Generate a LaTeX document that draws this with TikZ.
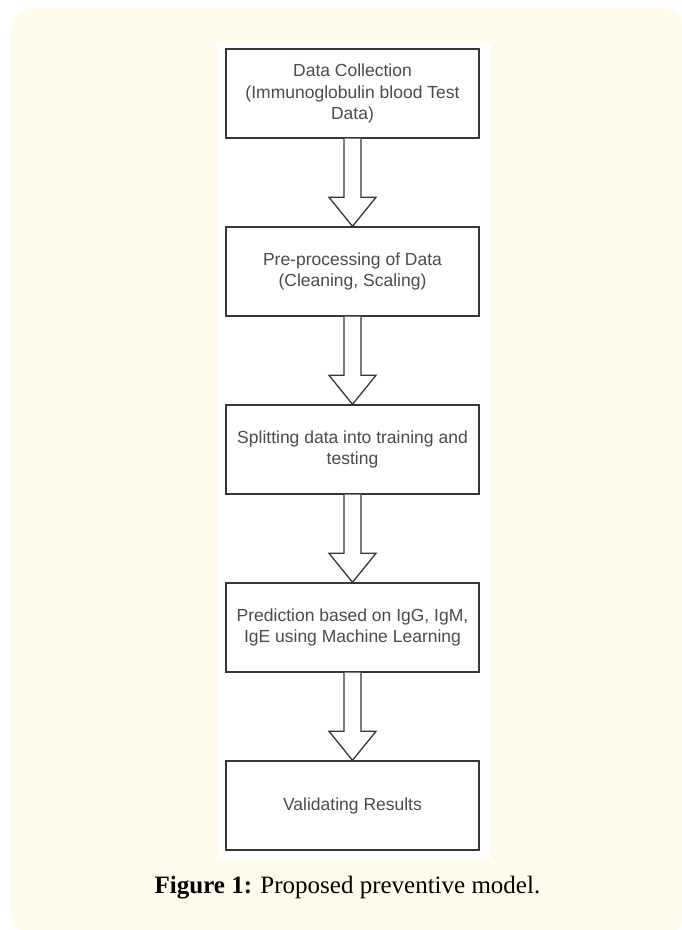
\documentclass[tikz,border=0pt]{standalone}
\usepackage{fontspec}
\setmainfont{Liberation Serif}
\setsansfont{Liberation Sans}
\usetikzlibrary{calc}
\definecolor{bgyellow}{RGB}{255,251,234}
\definecolor{boxline}{RGB}{55,55,55}
\definecolor{boxtext}{RGB}{75,75,75}
\tikzset{
  stepbox/.style={draw=boxline, line width=1.4pt, fill=white, minimum width=253pt, minimum height=89pt,
    align=center, inner sep=0pt, text=boxtext, font=\sffamily\fontsize{17.5}{21.5}\selectfont},
  hollowarrow/.style={draw=boxline, line width=1.3pt, fill=white, line join=miter}
}
\begin{document}
\begin{tikzpicture}[x=1pt,y=-1pt]
\useasboundingbox (0,0) rectangle (682,930);
\fill[white] (0,0) rectangle (682,930);
\fill[bgyellow, rounded corners=23pt] (11,8) rectangle (686,934);
\fill[white] (217,43) rectangle (491,860);

\node[stepbox] (b1) at (352.5,93.5) {Data Collection\\(Immunoglobulin blood Test\\Data)};
\node[stepbox] (b2) at (352.5,271.5) {Pre-processing of Data\\(Cleaning, Scaling)};
\node[stepbox] (b3) at (352.5,449.5) {Splitting data into training and\\testing};
\node[stepbox] (b4) at (352.5,627.5) {Prediction based on IgG, IgM,\\IgE using Machine Learning};
\node[stepbox] (b5) at (352.5,805.5) {Validating Results};

\foreach \a/\b in {b1/b2,b2/b3,b3/b4,b4/b5}{
  \draw[hollowarrow] ($(\a.south)+(-8.5,0)$) -- ($(\b.north)+(-8.5,-29)$) -- ($(\b.north)+(-23.5,-29)$)
    -- (\b.north) -- ($(\b.north)+(23.5,-29)$) -- ($(\b.north)+(8.5,-29)$) -- ($(\a.south)+(8.5,0)$);
}

\node[anchor=base, inner sep=0pt, font=\fontsize{25}{30}\selectfont] (cap) at (347.5,893)
  {\textbf{Figure 1:} Proposed preventive model.};
\end{tikzpicture}
\end{document}
